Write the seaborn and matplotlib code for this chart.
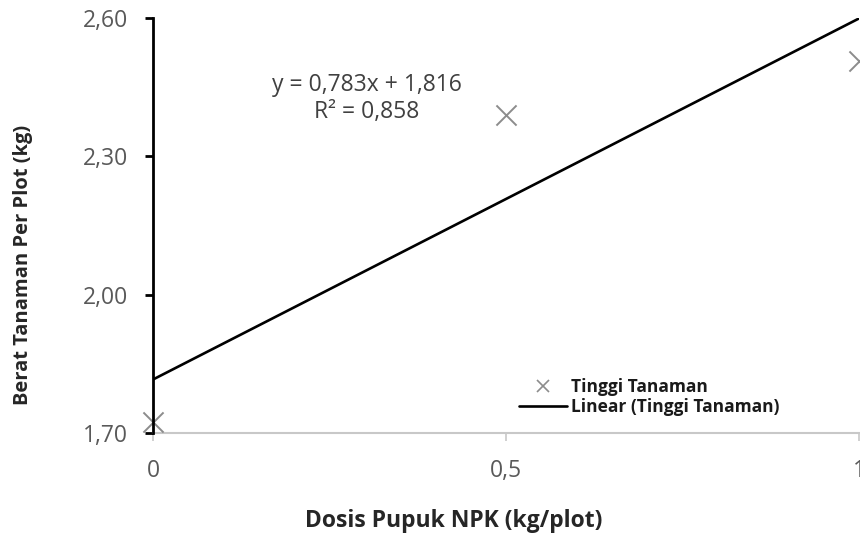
import matplotlib
matplotlib.use("Agg")
import matplotlib.pyplot as plt
import seaborn as sns
import numpy as np
import pandas as pd
from matplotlib.lines import Line2D

# Data
dosis = [0.0, 0.5, 1.0]
berat = [1.724, 2.390, 2.507]
slope = 0.783
intercept = 1.816
r2_text = "0,858"
eq_text = "y = 0,783x + 1,816"
y_ticks = [1.70, 2.00, 2.30, 2.60]
y_ticklabels = ["1,70", "2,00", "2,30", "2,60"]
x_ticks = [0.0, 0.5, 1.0]
x_ticklabels = ["0", "0,5", "1"]
series_label = "Tinggi Tanaman"
trend_label = "Linear (Tinggi Tanaman)"

sns.set_theme(style="white")
plt.rcParams['font.family'] = ['Open Sans', 'DejaVu Sans']

fig = plt.figure(figsize=(8.6, 5.33), dpi=100)
ax = fig.add_axes([153/860, 1-433/533, (859-153)/860, (433-18)/533])

df = pd.DataFrame({"x": dosis, "y": berat})
line_x = np.array([x_ticks[0], x_ticks[-1]])
trend = pd.DataFrame({"x": line_x, "y": intercept + slope * line_x})

sns.lineplot(data=trend, x="x", y="y", ax=ax, color="black", linewidth=1.9, zorder=3)
sns.scatterplot(data=df, x="x", y="y", ax=ax, marker="x", s=210, color="#8c8c8c",
                linewidth=1.4, zorder=4, clip_on=False)

ax.set_xlim(0, 1)
ax.set_ylim(1.70, 2.60)
ax.set_yticks(y_ticks)
ax.set_yticklabels(y_ticklabels)
ax.set_xticks(x_ticks)
ax.set_xticklabels(x_ticklabels)

for s in ["top", "right"]:
    ax.spines[s].set_visible(False)
ax.spines["left"].set_color("black")
ax.spines["left"].set_linewidth(2.0)
ax.spines["left"].set_zorder(5)
ax.spines["bottom"].set_color("#c8c8c8")
ax.spines["bottom"].set_linewidth(1.5)

ax.tick_params(axis="y", direction="out", length=6, width=2.0, color="black",
               labelsize=16.5, labelcolor="#595959", pad=12, left=True)
ax.tick_params(axis="x", direction="out", length=6, width=1.2, color="#c8c8c8",
               labelsize=16.5, labelcolor="#595959", pad=13, bottom=True)

ax.set_xlabel("")
ax.set_ylabel("")
fig.text(454/860, 1-521/533, "Dosis Pupuk NPK (kg/plot)", ha="center", va="center",
         fontsize=16.5, fontweight="bold", color="#262626")
fig.text(23/860, 1-265/533, "Berat Tanaman Per Plot (kg)", ha="center", va="center",
         rotation=90, fontsize=14.5, fontweight="bold", color="#262626")

fig.text(367/860, 1-85/533, eq_text, ha="center", va="center", fontsize=16.5, color="#404040")
fig.text(367/860, 1-112/533, "R² = " + r2_text, ha="center", va="center", fontsize=16.5, color="#404040")

handles = [
    Line2D([], [], linestyle="none", marker="x", color="#8c8c8c", markersize=9, markeredgewidth=1.2),
    Line2D([], [], color="black", linewidth=1.9),
]
leg = ax.legend(handles, [series_label, trend_label], loc="center left",
                bbox_to_anchor=(510/860, 1-397/533), bbox_transform=fig.transFigure,
                frameon=False, prop={"size": 12.5, "weight": "bold"},
                handlelength=2.8, handletextpad=0.2, labelspacing=0.1, borderpad=0)
for t in leg.get_texts():
    t.set_color("#1a1a1a")

fig.savefig("out.png", dpi=100)
